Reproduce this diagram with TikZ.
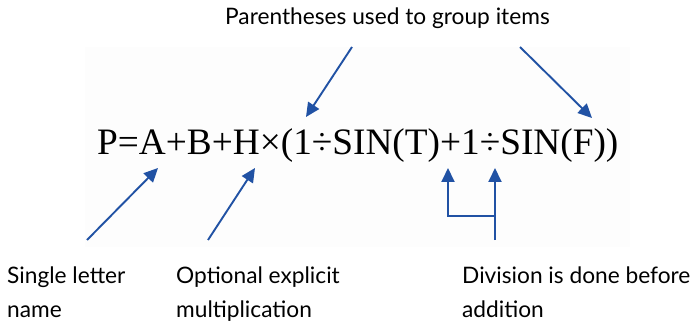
\documentclass[tikz,border=0pt]{standalone}
\usepackage{fontspec}
\setmainfont{Liberation Serif}
\newfontfamily\lblfont{Lato}
\usetikzlibrary{arrows.meta}
\definecolor{arrowblue}{RGB}{33,82,164}
\tikzset{
  lbl/.style={anchor=base west,inner sep=0pt,align=left,font=\lblfont\fontsize{22.7}{34}\selectfont},
  ptr/.style={draw=arrowblue,line width=1.9pt,-{Triangle[length=14pt,width=13pt]}},
  plainline/.style={draw=arrowblue,line width=1.9pt}
}
\begin{document}
\begin{tikzpicture}[x=1pt,y=-1pt]
\useasboundingbox (0,0) rectangle (693,323);
\fill[black!0.7] (85,47) rectangle (630,247);
\node[anchor=base west,inner sep=0pt,font=\fontsize{37.3}{40}\selectfont] (formula) at (97,155) {P=A+B+H×(1÷SIN(T)+1÷SIN(F))};
\node[lbl] (top) at (225,25) {Parentheses used to group items};
\node[lbl] (single) at (7,317) {Single letter\\name};
\node[lbl] (optional) at (176,317) {Optional explicit\\multiplication};
\node[lbl] (division) at (462,317) {Division is done before\\addition};
% coordinates
\coordinate (t1s) at (352,47);
\coordinate (t1e) at (306,117);
\coordinate (t2s) at (520,47);
\coordinate (t2e) at (592,118);
\coordinate (b1s) at (87,240);
\coordinate (b1e) at (158,168);
\coordinate (b2s) at (208,240);
\coordinate (b2e) at (255,168);
\coordinate (stem) at (495,240);
\coordinate (corner) at (495,216);
\coordinate (cornerL) at (448,216);
\coordinate (d1e) at (448,168);
\coordinate (d2e) at (495,168);
\draw[ptr] (t1s) -- (t1e);
\draw[ptr] (t2s) -- (t2e);
\draw[ptr] (b1s) -- (b1e);
\draw[ptr] (b2s) -- (b2e);
\draw[ptr] (stem) -- (d2e);
\draw[ptr] (corner) -- (cornerL) -- (d1e);
\end{tikzpicture}
\end{document}
